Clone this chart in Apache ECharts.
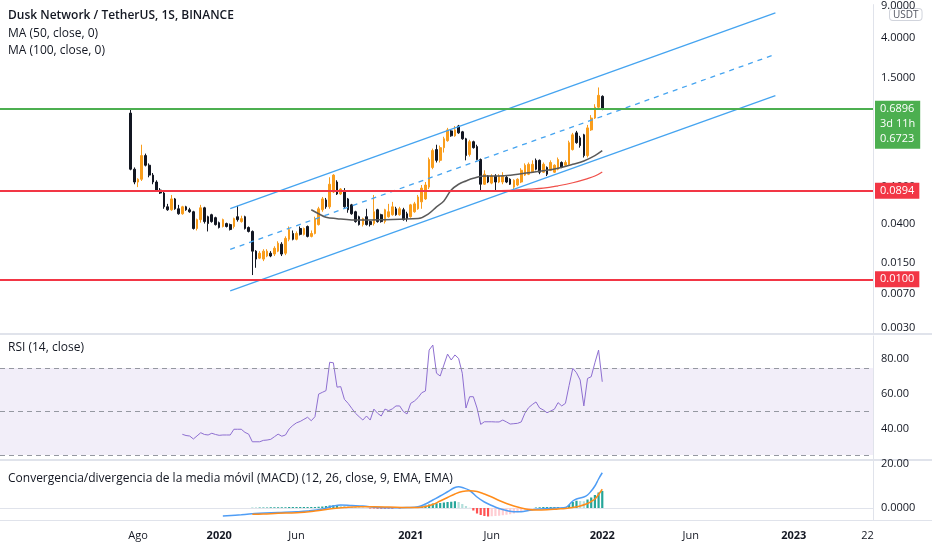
<!DOCTYPE html>
<html>
<head>
<meta charset="utf-8">
<title>Dusk Network / TetherUS, 1S, BINANCE</title>
<script src="https://cdn.jsdelivr.net/npm/echarts@6/dist/echarts.min.js"></script>
<style>
html, body { margin: 0; padding: 0; background: #fff; }
#chart { width: 932px; height: 550px; }
</style>
</head>
<body>
<div id="chart"></div>
<script>
// eje semanal (lunes), de nov 2018 a jun 2023
var firstWeek = '2018-11-19';
var weekCount = 237;
var firstCandle = '2019-07-22';

// velas semanales DUSK/USDT: [open, high, low, close]
var weeklyOHLC = [
  [0.621, 0.684, 0.150, 0.154], [0.154, 0.161, 0.106, 0.112], [0.112, 0.123, 0.0987, 0.120], [0.120, 0.283, 0.115, 0.216],
  [0.216, 0.227, 0.165, 0.170], [0.170, 0.178, 0.126, 0.133], [0.133, 0.140, 0.106, 0.112], [0.112, 0.117, 0.0874, 0.0917],
  [0.0917, 0.0963, 0.0832, 0.0852], [0.0852, 0.0895, 0.0576, 0.0605], [0.0605, 0.0651, 0.0548, 0.0562], [0.0562, 0.0812, 0.0548, 0.0736],
  [0.0736, 0.0754, 0.0562, 0.0576], [0.0576, 0.0635, 0.0497, 0.0509], [0.0509, 0.0620, 0.0497, 0.0605], [0.0605, 0.0620, 0.0548, 0.0562],
  [0.0562, 0.0590, 0.0522, 0.0535], [0.0535, 0.0548, 0.0344, 0.0353], [0.0353, 0.0451, 0.0336, 0.0440], [0.0440, 0.0635, 0.0408, 0.0590],
  [0.0590, 0.0605, 0.0399, 0.0419], [0.0473, 0.0485, 0.0328, 0.0399], [0.0497, 0.0509, 0.0408, 0.0419], [0.0462, 0.0473, 0.0380, 0.0389],
  [0.0408, 0.0419, 0.0353, 0.0362], [0.0371, 0.0451, 0.0362, 0.0440], [0.0399, 0.0408, 0.0362, 0.0371], [0.0389, 0.0399, 0.0336, 0.0344],
  [0.0371, 0.0462, 0.0353, 0.0451], [0.0473, 0.0620, 0.0419, 0.0440], [0.0419, 0.0485, 0.0408, 0.0451], [0.0473, 0.0485, 0.0344, 0.0353],
  [0.0362, 0.0371, 0.0320, 0.0328], [0.0328, 0.0336, 0.0111, 0.0201], [0.0201, 0.0206, 0.0133, 0.0165], [0.0169, 0.0201, 0.0165, 0.0191],
  [0.0165, 0.0211, 0.0157, 0.0201], [0.0178, 0.0211, 0.0173, 0.0201], [0.0191, 0.0201, 0.0173, 0.0178], [0.0187, 0.0227, 0.0178, 0.0216],
  [0.0201, 0.0257, 0.0196, 0.0245], [0.0239, 0.0251, 0.0178, 0.0187], [0.0191, 0.0290, 0.0182, 0.0276], [0.0270, 0.0371, 0.0257, 0.0344],
  [0.0312, 0.0336, 0.0263, 0.0270], [0.0270, 0.0328, 0.0263, 0.0312], [0.0353, 0.0371, 0.0297, 0.0305], [0.0305, 0.0362, 0.0297, 0.0353],
  [0.0371, 0.0380, 0.0283, 0.0290], [0.0290, 0.0336, 0.0283, 0.0312], [0.0312, 0.0473, 0.0305, 0.0451], [0.0389, 0.0605, 0.0380, 0.0576],
  [0.0562, 0.0773, 0.0535, 0.0736], [0.0718, 0.0754, 0.0576, 0.0605], [0.0605, 0.126, 0.0576, 0.106], [0.0874, 0.136, 0.0852, 0.133],
  [0.112, 0.117, 0.0812, 0.0832], [0.0832, 0.0963, 0.0812, 0.0940], [0.0895, 0.0963, 0.0590, 0.0605], [0.0736, 0.0754, 0.0522, 0.0562],
  [0.0635, 0.0651, 0.0497, 0.0509], [0.0535, 0.0548, 0.0408, 0.0419], [0.0473, 0.0485, 0.0380, 0.0389], [0.0389, 0.0462, 0.0371, 0.0451],
  [0.0473, 0.0576, 0.0380, 0.0389], [0.0419, 0.0429, 0.0371, 0.0389], [0.0399, 0.0812, 0.0380, 0.0535], [0.0562, 0.0576, 0.0408, 0.0419],
  [0.0497, 0.0509, 0.0408, 0.0419], [0.0419, 0.0576, 0.0399, 0.0562], [0.0473, 0.0651, 0.0462, 0.0535], [0.0497, 0.0684, 0.0485, 0.0605],
  [0.0576, 0.0605, 0.0485, 0.0497], [0.0497, 0.0605, 0.0485, 0.0576], [0.0562, 0.0590, 0.0429, 0.0440], [0.0509, 0.0535, 0.0419, 0.0451],
  [0.0473, 0.0651, 0.0462, 0.0635], [0.0535, 0.0684, 0.0522, 0.0651], [0.0576, 0.0812, 0.0562, 0.0773], [0.0684, 0.104, 0.0576, 0.0963],
  [0.0736, 0.112, 0.0718, 0.104], [0.0987, 0.206, 0.0940, 0.196], [0.161, 0.257, 0.154, 0.245], [0.251, 0.283, 0.182, 0.192],
  [0.192, 0.277, 0.182, 0.263], [0.263, 0.345, 0.233, 0.328], [0.313, 0.430, 0.305, 0.409], [0.399, 0.409, 0.345, 0.353],
  [0.353, 0.451, 0.345, 0.409], [0.451, 0.463, 0.371, 0.380], [0.390, 0.399, 0.320, 0.328], [0.328, 0.336, 0.192, 0.216],
  [0.222, 0.320, 0.211, 0.305], [0.305, 0.313, 0.257, 0.263], [0.270, 0.283, 0.192, 0.196], [0.196, 0.201, 0.0874, 0.106],
  [0.106, 0.150, 0.104, 0.136], [0.130, 0.133, 0.109, 0.112], [0.109, 0.136, 0.106, 0.130], [0.130, 0.136, 0.0874, 0.112],
  [0.112, 0.136, 0.109, 0.130], [0.112, 0.143, 0.106, 0.130], [0.126, 0.130, 0.109, 0.112], [0.120, 0.123, 0.104, 0.106],
  [0.0987, 0.120, 0.0917, 0.117], [0.104, 0.123, 0.101, 0.120], [0.112, 0.158, 0.109, 0.150], [0.133, 0.178, 0.130, 0.170],
  [0.136, 0.182, 0.133, 0.174], [0.143, 0.192, 0.140, 0.174], [0.192, 0.201, 0.150, 0.154], [0.192, 0.196, 0.136, 0.143],
  [0.143, 0.182, 0.140, 0.174], [0.161, 0.165, 0.130, 0.136], [0.150, 0.192, 0.147, 0.182], [0.143, 0.174, 0.140, 0.170],
  [0.154, 0.206, 0.150, 0.196], [0.182, 0.187, 0.158, 0.161], [0.170, 0.192, 0.165, 0.182], [0.174, 0.313, 0.170, 0.298],
  [0.251, 0.380, 0.245, 0.362], [0.380, 0.399, 0.290, 0.298], [0.336, 0.353, 0.263, 0.277], [0.362, 0.371, 0.206, 0.216],
  [0.216, 0.463, 0.206, 0.430], [0.409, 0.591, 0.399, 0.549], [0.549, 0.774, 0.536, 0.719], [0.719, 1.174, 0.684, 0.965],
  [0.942, 0.965, 0.668, 0.6896]
];

// medias moviles: [semana desde la 1a vela, valor]
var ma50Points = [
  [49, 0.0562], [51, 0.0509], [53, 0.0467], [56, 0.0451], [60, 0.0437], [64, 0.0435], [69, 0.0440],
  [73, 0.0445], [78, 0.0452], [81, 0.0515], [83, 0.0605], [85, 0.0701], [87, 0.0917], [89, 0.106],
  [91, 0.115], [93, 0.123], [96, 0.130], [100, 0.130], [104, 0.134], [108, 0.141], [112, 0.148],
  [116, 0.158], [120, 0.174], [123, 0.189], [126, 0.216], [128, 0.244]
];
var ma100Points = [
  [99, 0.0906], [104, 0.0917], [108, 0.0940], [112, 0.0963], [116, 0.102], [120, 0.110],
  [124, 0.122], [126, 0.130], [128, 0.144]
];

// RSI(14) semana a semana, desde la semana 14
var rsiStart = 14;
var rsiValues = [
  36.9, 36.2, 35.9, 34.2, 36.0, 37.8, 36.8, 36.5, 37.5, 36.8,
  36.3, 36.5, 36.5, 36.5, 39.8, 39.8, 39.8, 38.0, 37.0, 32.6,
  32.6, 32.6, 33.4, 33.6, 34.0, 35.5, 37.0, 35.8, 36.5, 40.0,
  42.0, 43.5, 44.3, 45.5, 46.7, 44.7, 47.0, 60.0, 61.0, 62.0,
  78.3, 78.0, 64.0, 64.3, 57.0, 54.7, 51.8, 49.0, 47.0, 45.1,
  47.4, 45.1, 51.4, 49.0, 47.4, 51.4, 50.5, 51.5, 53.2, 53.2,
  50.0, 48.6, 54.7, 56.0, 58.0, 60.8, 61.8, 85.3, 88.2, 72.0,
  70.4, 76.7, 83.0, 79.6, 82.5, 80.5, 72.0, 52.0, 58.5, 58.5,
  52.0, 42.6, 44.1, 44.1, 44.1, 44.0, 44.0, 45.1, 44.0, 42.8,
  43.0, 43.2, 44.0, 49.0, 52.2, 54.0, 55.5, 52.0, 50.9, 49.3,
  50.3, 51.3, 55.1, 53.2, 54.7, 65.0, 74.8, 72.3, 68.1, 53.2,
  69.0, 70.0, 78.0, 85.3, 67.1
];

// MACD (12, 26, 9): lineas [semana, valor] e histograma semanal desde la semana 33
var macdPoints = [
  [25, -0.032], [30, -0.027], [35, -0.021], [40, -0.018], [45, -0.015], [48, -0.012], [52, -0.004],
  [55, 0.008], [57, 0.012], [60, 0.010], [63, 0.008], [67, 0.002], [71, 0.001], [75, 0.002],
  [78, 0.005], [80, 0.016], [82, 0.032], [84, 0.048], [86, 0.065], [88, 0.082], [89, 0.085],
  [90, 0.082], [92, 0.070], [94, 0.044], [96, 0.024], [98, 0.010], [100, -0.002], [102, -0.010],
  [104, -0.015], [106, -0.015], [108, -0.010], [110, -0.005], [113, -0.002], [116, 0.000],
  [118, 0.002], [120, 0.028], [121, 0.036], [123, 0.044], [124, 0.052], [125, 0.068],
  [126, 0.088], [127, 0.116], [128, 0.141]
];
var signalPoints = [
  [33, -0.025], [36, -0.024], [40, -0.021], [45, -0.019], [50, -0.012], [55, -0.002], [58, 0.002],
  [62, 0.005], [66, 0.005], [70, 0.004], [75, 0.002], [78, 0.002], [80, 0.006], [82, 0.014],
  [84, 0.028], [86, 0.042], [88, 0.056], [90, 0.066], [92, 0.069], [94, 0.066], [96, 0.056],
  [98, 0.044], [100, 0.030], [102, 0.018], [104, 0.008], [106, 0.000], [108, -0.006], [110, -0.008],
  [113, -0.007], [116, -0.004], [118, -0.002], [120, 0.002], [122, 0.008], [124, 0.018],
  [125, 0.026], [126, 0.036], [127, 0.054], [128, 0.075]
];
var histStart = 33;
var histValues = [
  0.001, 0.001, 0.002, 0.002, 0.002, 0.003, 0.003, 0.003, 0.003, 0.003,
  0.004, 0.004, 0.004, 0.004, 0.004, 0.004, 0.004, 0.004, 0.005, 0.006,
  0.008, 0.010, 0.011, 0.011, 0.010, 0.008, 0.006, 0.005, 0.004, 0.003,
  0.002, 0.000, -0.002, -0.002, -0.003, -0.003, -0.003, -0.003, -0.003, -0.002,
  -0.002, -0.001, 0.000, 0.001, 0.002, 0.003, 0.006, 0.010, 0.014, 0.018,
  0.019, 0.020, 0.022, 0.024, 0.025, 0.027, 0.024, 0.016, 0.008, 0.001,
  -0.010, -0.022, -0.028, -0.032, -0.034, -0.033, -0.032, -0.031, -0.029, -0.027,
  -0.025, -0.022, -0.018, -0.014, -0.009, -0.004, 0.000, 0.002, 0.003, 0.004,
  0.004, 0.004, 0.004, 0.004, 0.003, 0.004, 0.012, 0.024, 0.029, 0.028,
  0.027, 0.034, 0.042, 0.052, 0.062, 0.068
];

// niveles horizontales y canal dibujados
var levels = [0.6896, 0.0894, 0.0100];
var levelExtra = [['3d 11h', '0.6723'], [], []];
var channelUpper = [['2020-01-27', 0.0577], ['2022-11-28', 7.49]];
var channelMid = [['2020-01-27', 0.0210], ['2022-11-28', 2.675]];
var channelLower = [['2020-01-27', 0.0075], ['2022-11-28', 0.956]];

// marcas de los ejes
var priceTicks = [9, 4, 1.5, 0.1, 0.04, 0.015, 0.007, 0.003];
var rsiTicks = [20, 40, 60, 80];
var rsiLevels = [75, 50, 25];
var macdTicks = [0];
var xLabels = {
  '2019-08-05': 'Ago', '2020-01-06': '2020', '2020-06-01': 'Jun', '2021-01-04': '2021',
  '2021-06-07': 'Jun', '2022-01-03': '2022', '2022-06-20': 'Jun', '2023-01-02': '2023',
  '2023-05-22': '22'
};

var FONT = '"Open Sans", "Noto Sans", sans-serif';
var TXT = '#131722';
var BULL = '#f99d1c';
var BEAR = '#131722';
var BLUE = '#45a4f0';

var weeks = [];
var t0 = Date.parse(firstWeek + 'T00:00:00Z');
for (var i = 0; i < weekCount; i++) {
  weeks.push(new Date(t0 + i * 7 * 86400000).toISOString().slice(0, 10));
}
var lead = weeks.indexOf(firstCandle);

var candleData = weeklyOHLC.map(function (d, k) {
  // echarts: [x, open, close, lowest, highest]
  return [k + lead, d[0], d[3], d[2], d[1]];
});
function toXY(points) {
  return points.map(function (p) { return [p[0] + lead, p[1]]; });
}
var rsiData = rsiValues.map(function (v, i) { return [i + rsiStart + lead, v]; });
var histData = histValues.map(function (v, i) {
  var prev = i > 0 ? histValues[i - 1] : 0;
  var c;
  if (v >= 0) c = v >= prev ? '#26a69a' : '#b2dfdb';
  else c = v <= prev ? '#ff5252' : '#ffcdd2';
  return { value: [i + histStart + lead, v], itemStyle: { color: c } };
});

function fmt4(v) { return Number(v).toFixed(4); }

function channel(pts, type) {
  return [
    { coord: [weeks.indexOf(pts[0][0]), pts[0][1]], lineStyle: { color: BLUE, width: 1.3, type: type } },
    { coord: [weeks.indexOf(pts[1][0]), pts[1][1]] }
  ];
}
var levelColors = ['#4caf50', '#f23645', '#f23645'];
var levelLines = levels.map(function (v, i) {
  var top = i === 0;
  return {
    yAxis: v,
    lineStyle: { color: levelColors[i], width: 2, type: 'solid' },
    label: {
      show: true,
      position: 'end',
      formatter: [fmt4(v)].concat(levelExtra[i]).join('\n'),
      color: '#fff',
      backgroundColor: levelColors[i],
      fontFamily: FONT,
      fontSize: 11,
      lineHeight: top ? 15 : 14,
      padding: top ? [1, 5, 2, 5] : [1, 5, 1, 5],
      distance: 2,
      align: 'left',
      verticalAlign: top ? 'top' : 'middle',
      offset: top ? [0, -8] : [0, 0]
    }
  };
});

var chart = echarts.init(document.getElementById('chart'), null, { renderer: 'canvas' });

var option = {
  animation: false,
  backgroundColor: '#ffffff',
  textStyle: { fontFamily: FONT },
  grid: [
    { left: 0, right: 59, top: 0, height: 333 },
    { left: 0, right: 59, top: 336, height: 127.7 },
    { left: 0, right: 59, top: 462, height: 58 }
  ],
  xAxis: [0, 1, 2].map(function (g) {
    return {
      type: 'category',
      gridIndex: g,
      data: weeks,
      boundaryGap: true,
      axisTick: { show: false },
      axisLine: { show: g === 2, lineStyle: { color: '#e0e3eb' } },
      splitLine: { show: false },
      axisLabel: g === 2 ? {
        interval: function (idx, val) { return !!xLabels[val]; },
        formatter: function (val) {
          var t = xLabels[val] || '';
          return /^\d{4}$/.test(t) ? '{b|' + t + '}' : t;
        },
        rich: { b: { fontWeight: 'bold', fontSize: 11, color: TXT, fontFamily: FONT } },
        color: TXT,
        fontSize: 11,
        margin: 10
      } : { show: false }
    };
  }),
  yAxis: [
    {
      type: 'log', logBase: 10, gridIndex: 0, position: 'right',
      min: 0.00263, max: 9.2,
      axisLine: { show: true, lineStyle: { color: '#e0e3eb' } },
      axisTick: { show: false },
      splitLine: { show: false },
      axisLabel: { customValues: priceTicks, formatter: fmt4, color: TXT, fontSize: 11, margin: 8 }
    },
    {
      type: 'value', gridIndex: 1, position: 'right',
      min: 20, max: 93.4,
      axisLine: { show: true, lineStyle: { color: '#e0e3eb' } },
      axisTick: { show: false },
      splitLine: { show: false },
      axisLabel: { customValues: rsiTicks, formatter: function (v) { return v.toFixed(2); }, color: TXT, fontSize: 11, margin: 8 }
    },
    {
      type: 'value', gridIndex: 2, position: 'right',
      min: -0.048, max: 0.184,
      axisLine: { show: true, lineStyle: { color: '#e0e3eb' } },
      axisTick: { show: false },
      splitLine: { show: false },
      axisLabel: { customValues: macdTicks, formatter: fmt4, color: TXT, fontSize: 11, margin: 8 }
    }
  ],
  series: [
    {
      name: 'DUSKUSDT',
      type: 'candlestick',
      xAxisIndex: 0, yAxisIndex: 0,
      data: candleData,
      encode: { x: 0, y: [1, 2, 3, 4] },
      barWidth: '58%',
      itemStyle: { color: BULL, color0: BEAR, borderColor: BULL, borderColor0: BEAR, borderWidth: 1 },
      markLine: {
        silent: true,
        symbol: ['none', 'none'],
        animation: false,
        label: { show: false },
        data: [
          channel(channelUpper, 'solid'),
          channel(channelMid, [5, 5]),
          channel(channelLower, 'solid')
        ].concat(levelLines)
      }
    },
    {
      name: 'MA 50',
      type: 'line',
      xAxisIndex: 0, yAxisIndex: 0,
      data: toXY(ma50Points),
      smooth: 0.4,
      showSymbol: false,
      lineStyle: { color: '#5a5a5a', width: 1.5 },
      z: 3
    },
    {
      name: 'MA 100',
      type: 'line',
      xAxisIndex: 0, yAxisIndex: 0,
      data: toXY(ma100Points),
      smooth: 0.4,
      showSymbol: false,
      lineStyle: { color: '#f0504a', width: 1.2 },
      z: 3
    },
    {
      name: 'RSI',
      type: 'line',
      xAxisIndex: 1, yAxisIndex: 1,
      data: rsiData,
      showSymbol: false,
      lineStyle: { color: '#8e6fd1', width: 1 },
      markArea: {
        silent: true,
        itemStyle: { color: 'rgba(126, 87, 194, 0.1)' },
        data: [[{ yAxis: rsiLevels[2] }, { yAxis: rsiLevels[0] }]]
      },
      markLine: {
        silent: true,
        symbol: ['none', 'none'],
        label: { show: false },
        lineStyle: { color: '#9598a1', width: 1, type: [5, 4] },
        data: rsiLevels.map(function (v) { return { yAxis: v }; })
      }
    },
    {
      name: 'Histograma',
      type: 'bar',
      xAxisIndex: 2, yAxisIndex: 2,
      data: histData,
      barWidth: '60%'
    },
    {
      name: 'MACD',
      type: 'line',
      xAxisIndex: 2, yAxisIndex: 2,
      data: toXY(macdPoints),
      smooth: 0.4,
      showSymbol: false,
      lineStyle: { color: '#4f9df5', width: 1.5 }
    },
    {
      name: 'Señal',
      type: 'line',
      xAxisIndex: 2, yAxisIndex: 2,
      data: toXY(signalPoints),
      smooth: 0.4,
      showSymbol: false,
      lineStyle: { color: '#ff8c1a', width: 1.5 }
    }
  ],
  graphic: [
    { type: 'rect', left: 0, top: 333, shape: { width: 932, height: 2 }, style: { fill: '#e0e3eb' }, silent: true },
    { type: 'rect', left: 0, top: 459, shape: { width: 932, height: 2 }, style: { fill: '#e0e3eb' }, silent: true },
    { type: 'rect', left: 0, top: 520, shape: { width: 932, height: 1 }, style: { fill: '#e0e3eb' }, silent: true },
    { type: 'text', left: 8, top: 10, style: { text: 'Dusk Network / TetherUS, 1S, BINANCE', fill: TXT, font: '600 12px ' + FONT } },
    { type: 'text', left: 8, top: 28, style: { text: 'MA (50, close, 0)', fill: TXT, font: '12px ' + FONT } },
    { type: 'text', left: 8, top: 45, style: { text: 'MA (100, close, 0)', fill: TXT, font: '12px ' + FONT } },
    { type: 'text', left: 8, top: 342, style: { text: 'RSI (14, close)', fill: TXT, font: '12px ' + FONT } },
    { type: 'text', left: 8, top: 473, style: { text: 'Convergencia/divergencia de la media móvil (MACD) (12, 26, close, 9, EMA, EMA)', fill: TXT, font: '12px ' + FONT } },
    {
      type: 'text', left: 889, top: 8,
      style: {
        text: 'USDT', fill: '#50535e', font: '10px ' + FONT,
        backgroundColor: '#fff', borderColor: '#d1d4dc', borderWidth: 1, borderRadius: 3, padding: [1, 3, 0, 3]
      }
    }
  ]
};

chart.setOption(option);
</script>
</body>
</html>
